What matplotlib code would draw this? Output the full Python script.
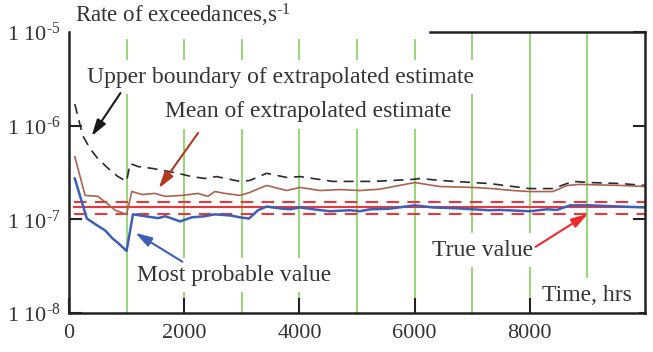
import matplotlib
matplotlib.use("Agg")
import matplotlib.pyplot as plt
import numpy as np

plt.rcParams['font.family'] = 'Liberation Serif'
plt.rcParams['mathtext.fontset'] = 'custom'
plt.rcParams['mathtext.rm'] = 'Liberation Serif'
plt.rcParams['mathtext.it'] = 'Liberation Serif:italic'

# values (hours, rate in s^-1)
blue_x = [100, 310, 490, 630, 750, 850, 1000, 1110, 1320, 1550, 1670, 1930, 2130, 2360,
          2530, 2800, 2970, 3125, 3280, 3430, 3660, 3840, 4010, 4240, 4530, 4880, 5050,
          5230, 5570, 6000, 6320, 6740, 7010, 7300, 7480, 8000, 8300, 8470, 8700, 9050,
          9570, 10000]
blue_y = [2.73, 1.02, 0.86, 0.76, 0.63, 0.56, 0.46, 1.13, 1.08, 1.03, 1.08, 0.95, 1.05, 1.08,
          1.13, 1.10, 1.05, 1.02, 1.25, 1.37, 1.31, 1.28, 1.34, 1.28, 1.22, 1.25, 1.22,
          1.28, 1.30, 1.41, 1.34, 1.31, 1.28, 1.25, 1.26, 1.22, 1.28, 1.26, 1.41, 1.41,
          1.37, 1.34]

brown_x = [100, 280, 500, 660, 800, 1000, 1090, 1270, 1490, 1670, 1960, 2240, 2410, 2530,
           2710, 2970, 3140, 3430, 3780, 4010, 4360, 4700, 5050, 5400, 6000, 6440, 7010,
           7300, 7710, 8000, 8400, 8650, 8870, 9570, 10000]
brown_y = [4.67, 1.80, 1.76, 1.48, 1.25, 1.13, 1.98, 1.84, 1.89, 1.76, 1.80, 1.89, 1.76, 1.98,
           1.89, 1.80, 1.94, 2.30, 2.03, 2.19, 2.03, 2.08, 2.03, 2.10, 2.47, 2.24, 2.19,
           2.14, 2.03, 1.98, 1.98, 2.30, 2.36, 2.30, 2.24]

black_x = [100, 240, 365, 500, 680, 850, 1000, 1060, 1200, 1440, 1670, 1890, 2130, 2360,
           2560, 2970, 3140, 3430, 3780, 4010, 4580, 5280, 5970, 6100, 6440, 7010, 7300,
           7710, 8000, 8400, 8750, 9050, 9570, 10000]
black_y = [17.0, 7.8, 5.7, 4.45, 3.5, 2.86, 2.54, 3.94, 3.66, 3.50, 3.30, 3.10, 2.86, 2.73,
           2.86, 2.54, 2.60, 3.10, 2.80, 2.86, 2.54, 2.54, 2.67, 2.73, 2.60, 2.47, 2.41,
           2.24, 2.13, 2.13, 2.54, 2.47, 2.41, 2.30]

true_value = 1.34e-7
true_low = 1.13e-7
true_high = 1.55e-7
true_span = [90, 10000]

grid_x = [1000, 2000, 3000, 4000, 5000, 6000, 7000, 8000, 9000]
xticks = [0, 2000, 4000, 6000, 8000]
xtick_labels = ['0', '2000', '4000', '6000', '8000']
yticks = [1e-8, 1e-7, 1e-6, 1e-5]
ytick_labels = [r'1 10$^{\text{-}8}$', r'1 10$^{\text{-}7}$', r'1 10$^{\text{-}6}$',
                r'1 10$^{\text{-}5}$']

fig = plt.figure(figsize=(6.53, 3.52), dpi=100)
ax = fig.add_axes([69 / 653, 1 - 313 / 352, 576 / 653, 281 / 352])
ax.set_yscale('log')
ax.set_xlim(0, 10000)
ax.set_ylim(1e-8, 1e-5)

# green vertical grid lines
for gx in grid_x:
    top = 1.0 if gx >= 7000 else 0.972
    ax.axvline(gx, ymin=0, ymax=top, color='#8fd36b', lw=1.3, zorder=1)

# true value and its bounds
ax.plot(true_span, [true_value, true_value], color='#e8383c', lw=1.5, zorder=4)
ax.plot(true_span, [true_low, true_low], color='#e8383c', lw=1.5, dashes=(6, 4), zorder=4)
ax.plot(true_span, [true_high, true_high], color='#e8383c', lw=1.5, dashes=(6, 4), zorder=4)

ax.plot(black_x, np.array(black_y) * 1e-7, color='#2a2a2a', lw=1.2, dashes=(6, 4), zorder=5)
ax.plot(brown_x, np.array(brown_y) * 1e-7, color='#a8644e', lw=1.2, zorder=5)
ax.plot(blue_x, np.array(blue_y) * 1e-7, color='#3d5fb5', lw=1.8, zorder=6)

box = dict(facecolor='white', edgecolor='none', pad=5)
tc = '#333333'
ax.text(104, 1.5e-5, r'Rate of exceedances,s$^{\text{-}1}$', fontsize=16.5, color=tc,
        va='center', ha='left', bbox=box, zorder=3, clip_on=False)
ax.text(310, 3.3e-6, 'Upper boundary of extrapolated estimate', fontsize=17, color=tc,
        va='center', ha='left', bbox=box, zorder=3)
ax.text(1670, 1.41e-6, 'Mean of extrapolated estimate', fontsize=17, color=tc,
        va='center', ha='left', bbox=box, zorder=3)
ax.text(1180, 2.54e-8, 'Most probable value', fontsize=17, color=tc,
        va='center', ha='left', bbox=box, zorder=3)
ax.text(6300, 4.7e-8, 'True value', fontsize=17, color=tc,
        va='center', ha='left', bbox=box, zorder=3)
ax.text(8210, 1.55e-8, 'Time, hrs', fontsize=17, color=tc,
        va='center', ha='left', bbox=box, zorder=3)

arrow = '-|>,head_length=1.0,head_width=0.3'
ax.annotate('', xy=(365, 7.3e-7), xytext=(920, 2.36e-6),
            arrowprops=dict(arrowstyle=arrow, color='#1a1a1a', lw=1.5), zorder=7)
ax.annotate('', xy=(1530, 2.03e-7), xytext=(2270, 8.85e-7),
            arrowprops=dict(arrowstyle=arrow, color='#b0391f', lw=1.5), zorder=7)
ax.annotate('', xy=(1110, 7.45e-8), xytext=(2010, 3.4e-8),
            arrowprops=dict(arrowstyle=arrow, color='#3d5fb5', lw=1.5), zorder=7)
ax.annotate('', xy=(9050, 1.19e-7), xytext=(8060, 4.9e-8),
            arrowprops=dict(arrowstyle=arrow, color='#ee2a2a', lw=1.5), zorder=7)

ax.set_yticks(yticks)
ax.set_yticklabels(ytick_labels)
ax.yaxis.set_minor_locator(matplotlib.ticker.NullLocator())
ax.set_xticks(xticks)
ax.set_xticklabels(xtick_labels)
ax.tick_params(axis='both', direction='in', length=9, width=1.5, color='#222222',
               labelsize=16, labelcolor=tc, zorder=8)
ax.tick_params(axis='y', right=True, pad=6)
ax.tick_params(axis='x', length=11, pad=8)

for s in ['left', 'right', 'bottom', 'top']:
    ax.spines[s].set_linewidth(1.8)
    ax.spines[s].set_color('#222222')
    ax.spines[s].set_zorder(8)
ax.spines['top'].set_bounds(6270, 10000)

fig.savefig('out.png', dpi=100)
